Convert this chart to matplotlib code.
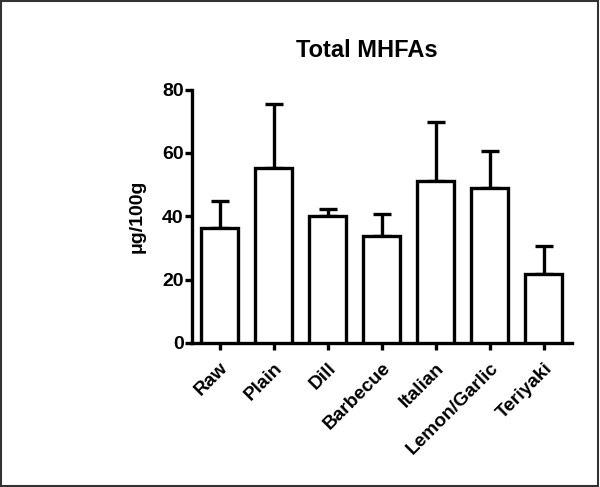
import matplotlib.pyplot as plt
import numpy as np

plt.rcParams['font.family'] = ['Liberation Sans', 'DejaVu Sans']
plt.rcParams['font.weight'] = 'bold'

# data
categories = ['Raw', 'Plain', 'Dill', 'Barbecue', 'Italian', 'Lemon/Garlic', 'Teriyaki']
means = [36.3, 55.1, 40.0, 33.8, 51.0, 48.8, 21.6]
errors = [8.4, 20.5, 2.2, 6.9, 18.8, 11.7, 9.1]

fig = plt.figure(figsize=(6, 4.87), dpi=100)
ax = fig.add_axes([0.32, 0.296, 0.633, 0.52])

x = np.arange(len(categories))
lw = 2.4
ax.bar(x, means, width=0.68, color='white', edgecolor='black', linewidth=lw, zorder=3)
ax.errorbar(x, means, yerr=[np.zeros(len(errors)), errors], fmt='none', ecolor='black',
            elinewidth=lw, capsize=6.5, capthick=lw, zorder=2)

ax.set_xlim(-0.51, 6.52)
ax.set_ylim(0, 80)
ax.set_yticks([0, 20, 40, 60, 80])
ax.set_xticks(x)
ax.set_xticklabels(categories, rotation=45, ha='right', rotation_mode='anchor',
                   fontsize=13.8, fontweight='bold')
ax.tick_params(axis='y', labelsize=14, width=lw, length=5, pad=1)
ax.tick_params(axis='x', width=lw, length=5, pad=7)
for lab in ax.get_yticklabels():
    lab.set_fontweight('bold')

ax.spines['top'].set_visible(False)
ax.spines['right'].set_visible(False)
ax.spines['left'].set_linewidth(lw)
ax.spines['bottom'].set_linewidth(lw)

ax.set_ylabel('\u03bcg/100g', fontsize=14, fontweight='bold', labelpad=12)
fig.text(0.612, 0.897, 'Total MHFAs', ha='center', va='center', fontsize=17, fontweight='bold')

# thin frame around the whole figure
fig.patches.append(plt.Rectangle((0.002, 0.003), 0.995, 0.994, transform=fig.transFigure,
                                 fill=False, edgecolor='#333333', linewidth=1.5))

fig.savefig('out.png', dpi=100)
